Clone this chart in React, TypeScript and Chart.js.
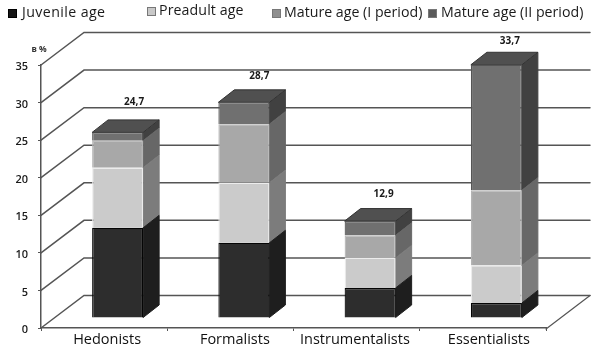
import React, { useEffect, useRef } from "react";
import { Chart, registerables } from "chart.js";

Chart.register(...registerables);

const categories = ["Hedonists", "Formalists", "Instrumentalists", "Essentialists"];
const juvenile = [12, 10, 4, 2];
const preadult = [8, 8, 4, 5];
const matureOne = [3.6, 7.8, 3, 10];
const matureTwo = [1.1, 2.9, 1.9, 16.7];
const totals = [24.7, 28.7, 12.9, 33.7];
const labelGaps = [30, 26, 27, 24];
const labelShiftX = [16.5, 15.5, 13.5, 13.5];
const categoryLabelShift = [3, 4.5, -1.7, 6];
const seriesNames = ["Juvenile age", "Preadult age", "Mature age (I period)", "Mature age (II period)"];
const legendX = [8, 147, 272, 428];
const legendTextX = [22, 159, 284, 441];
const legendY = [13, 11, 13, 13];
const legendSpacing = ["0.4px", "0.1px", "0px", "0px"];
const yTicks = [0, 5, 10, 15, 20, 25, 30, 35];

const FONT = '"Open Sans", "Noto Sans", sans-serif';
const BACK_DX = 43;
const BACK_DY = 32.5;
const BAR_DX = 13.5;
const BAR_DY = 10;
const SIDE_DX = 16;
const SIDE_DY = 12.5;

const faces = ["#2d2d2d", "#cbcbcb", "#a8a8a8", "#707070"];
const borders = ["#050505", "#ececec", "#b4b4b4", "#555555"];
const sides = ["#1e1e1e", "#7c7c7c", "#676767", "#414141"];
const tops = ["#222222", "#999999", "#777777", "#505050"];
const legendBoxes = ["#151515", "#c8c8c8", "#8f8f8f", "#5a5a5a"];

function poly(ctx: CanvasRenderingContext2D, pts: number[][], fill: string, stroke: string) {
  ctx.beginPath();
  pts.forEach((p, i) => (i ? ctx.lineTo(p[0], p[1]) : ctx.moveTo(p[0], p[1])));
  ctx.closePath();
  ctx.fillStyle = fill;
  ctx.fill();
  ctx.strokeStyle = stroke;
  ctx.lineWidth = 1;
  ctx.stroke();
}

const wallPlugin = {
  id: "wall3d",
  beforeDraw(chart: any) {
    const { scales, chartArea } = chart;
    scales.x.getLabelItems(chartArea).forEach((it: any, i: number) => {
      it.options.translation[0] += categoryLabelShift[i];
    });
    scales.y.getLabelItems(chartArea).forEach((it: any) => {
      it.options.translation[1] += 2;
    });
  },
  beforeDatasetsDraw(chart: any) {
    const { ctx, scales, chartArea } = chart;
    ctx.save();
    ctx.lineCap = "round";
    yTicks.forEach((v) => {
      const y = scales.y.getPixelForValue(v);
      ctx.beginPath();
      ctx.moveTo(chartArea.left, y);
      ctx.lineTo(chartArea.left + BACK_DX, y - BACK_DY);
      ctx.lineTo(chartArea.right + BACK_DX + 1, y - BACK_DY);
      ctx.strokeStyle = "#555555";
      ctx.lineWidth = 1.5;
      ctx.stroke();
    });
    const y0 = scales.y.getPixelForValue(0);
    ctx.beginPath();
    ctx.moveTo(chartArea.right + BACK_DX + 1, y0 - BACK_DY);
    ctx.lineTo(chartArea.right, y0 + 1);
    ctx.strokeStyle = "#555555";
    ctx.lineWidth = 1.2;
    ctx.stroke();
    ctx.restore();
  },
  beforeDatasetDraw(chart: any, args: any) {
    const { ctx } = chart;
    ctx.save();
    ctx.translate(BAR_DX, -BAR_DY);
    const i = args.index;
    args.meta.data.forEach((bar: any) => {
      const l = bar.x - bar.width / 2;
      const r = bar.x + bar.width / 2;
      poly(ctx, [[r, bar.y], [r + SIDE_DX, bar.y - SIDE_DY], [r + SIDE_DX, bar.base - SIDE_DY], [r, bar.base]], sides[i], sides[i]);
      if (i === faces.length - 1) {
        poly(ctx, [[l, bar.y], [l + SIDE_DX, bar.y - SIDE_DY], [r + SIDE_DX, bar.y - SIDE_DY], [r, bar.y]], tops[i], "#333333");
      }
    });
  },
  afterDatasetDraw(chart: any) {
    chart.ctx.restore();
  },
  afterDatasetsDraw(chart: any) {
    const { ctx, scales } = chart;
    ctx.save();
    ctx.fillStyle = "#1a1a1a";
    ctx.textAlign = "center";
    ctx.textBaseline = "middle";
    ctx.font = `700 10px ${FONT}`;
    totals.forEach((t, i) => {
      const x = scales.x.getPixelForValue(i) + BAR_DX + labelShiftX[i];
      const y = scales.y.getPixelForValue(t) - BAR_DY - labelGaps[i];
      ctx.fillText(t.toFixed(1).replace(".", ","), x, y);
    });
    ctx.font = `700 8.5px ${FONT}`;
    ctx.fillStyle = "#333333";
    ctx.fillText("в %", 39, 50);
    ctx.restore();
  },
  afterDraw(chart: any) {
    const { ctx } = chart;
    ctx.save();
    ctx.textAlign = "left";
    ctx.textBaseline = "middle";
    ctx.font = `14.2px ${FONT}`;
    chart.data.datasets.forEach((d: any, i: number) => {
      ctx.fillStyle = legendBoxes[i];
      ctx.fillRect(legendX[i] + 1, legendY[i] - 3, 7, 7);
      ctx.strokeStyle = i === 0 ? "#000000" : "#777777";
      ctx.lineWidth = 1;
      ctx.strokeRect(legendX[i] + 0.5, legendY[i] - 3.5, 8, 8);
      ctx.fillStyle = "#1a1a1a";
      (ctx as any).letterSpacing = legendSpacing[i];
      ctx.fillText(d.label, legendTextX[i], legendY[i]);
    });
    ctx.restore();
  },
};

export default function App() {
  const ref = useRef<HTMLCanvasElement | null>(null);
  useEffect(() => {
    const series = [juvenile, preadult, matureOne, matureTwo];
    const chart = new Chart(ref.current as HTMLCanvasElement, {
      type: "bar",
      data: {
        labels: categories,
        datasets: series.map((data, i) => ({
          label: seriesNames[i],
          data,
          backgroundColor: faces[i],
          borderColor: borders[i],
          borderWidth: 1.2,
          barPercentage: 0.404,
          categoryPercentage: 1,
          clip: false,
        })),
      } as any,
      options: {
        animation: false,
        responsive: false,
        layout: { padding: { top: 65, left: 0, right: 54, bottom: 0 } },
        plugins: { legend: { display: false }, tooltip: { enabled: false } },
        scales: {
          x: {
            stacked: true,
            afterFit: (s: any) => { s.height = 26; },
            border: { color: "#555555", width: 1.5 },
            grid: { drawOnChartArea: false, drawTicks: true, tickLength: 3, color: "#555555" },
            ticks: { color: "#111111", font: { family: FONT, size: 14.5 }, padding: 0, maxRotation: 0 },
          },
          y: {
            stacked: true,
            min: 0,
            max: 35,
            afterFit: (s: any) => { s.width = 41; },
            border: { color: "#555555", width: 1.5 },
            grid: { drawOnChartArea: false, drawTicks: true, tickLength: 3, color: "#555555" },
            ticks: { stepSize: 5, color: "#1a1a1a", font: { family: FONT, size: 11, weight: 600 }, padding: 10 },
          },
        },
      } as any,
      plugins: [wallPlugin],
    });
    return () => chart.destroy();
  }, []);
  return (
    <div style={{ position: "absolute", left: 0, top: 0, width: 600, height: 354, background: "#ffffff" }}>
      <canvas ref={ref} width={600} height={354} style={{ display: "block", filter: "blur(0.35px)" }} />
    </div>
  );
}
